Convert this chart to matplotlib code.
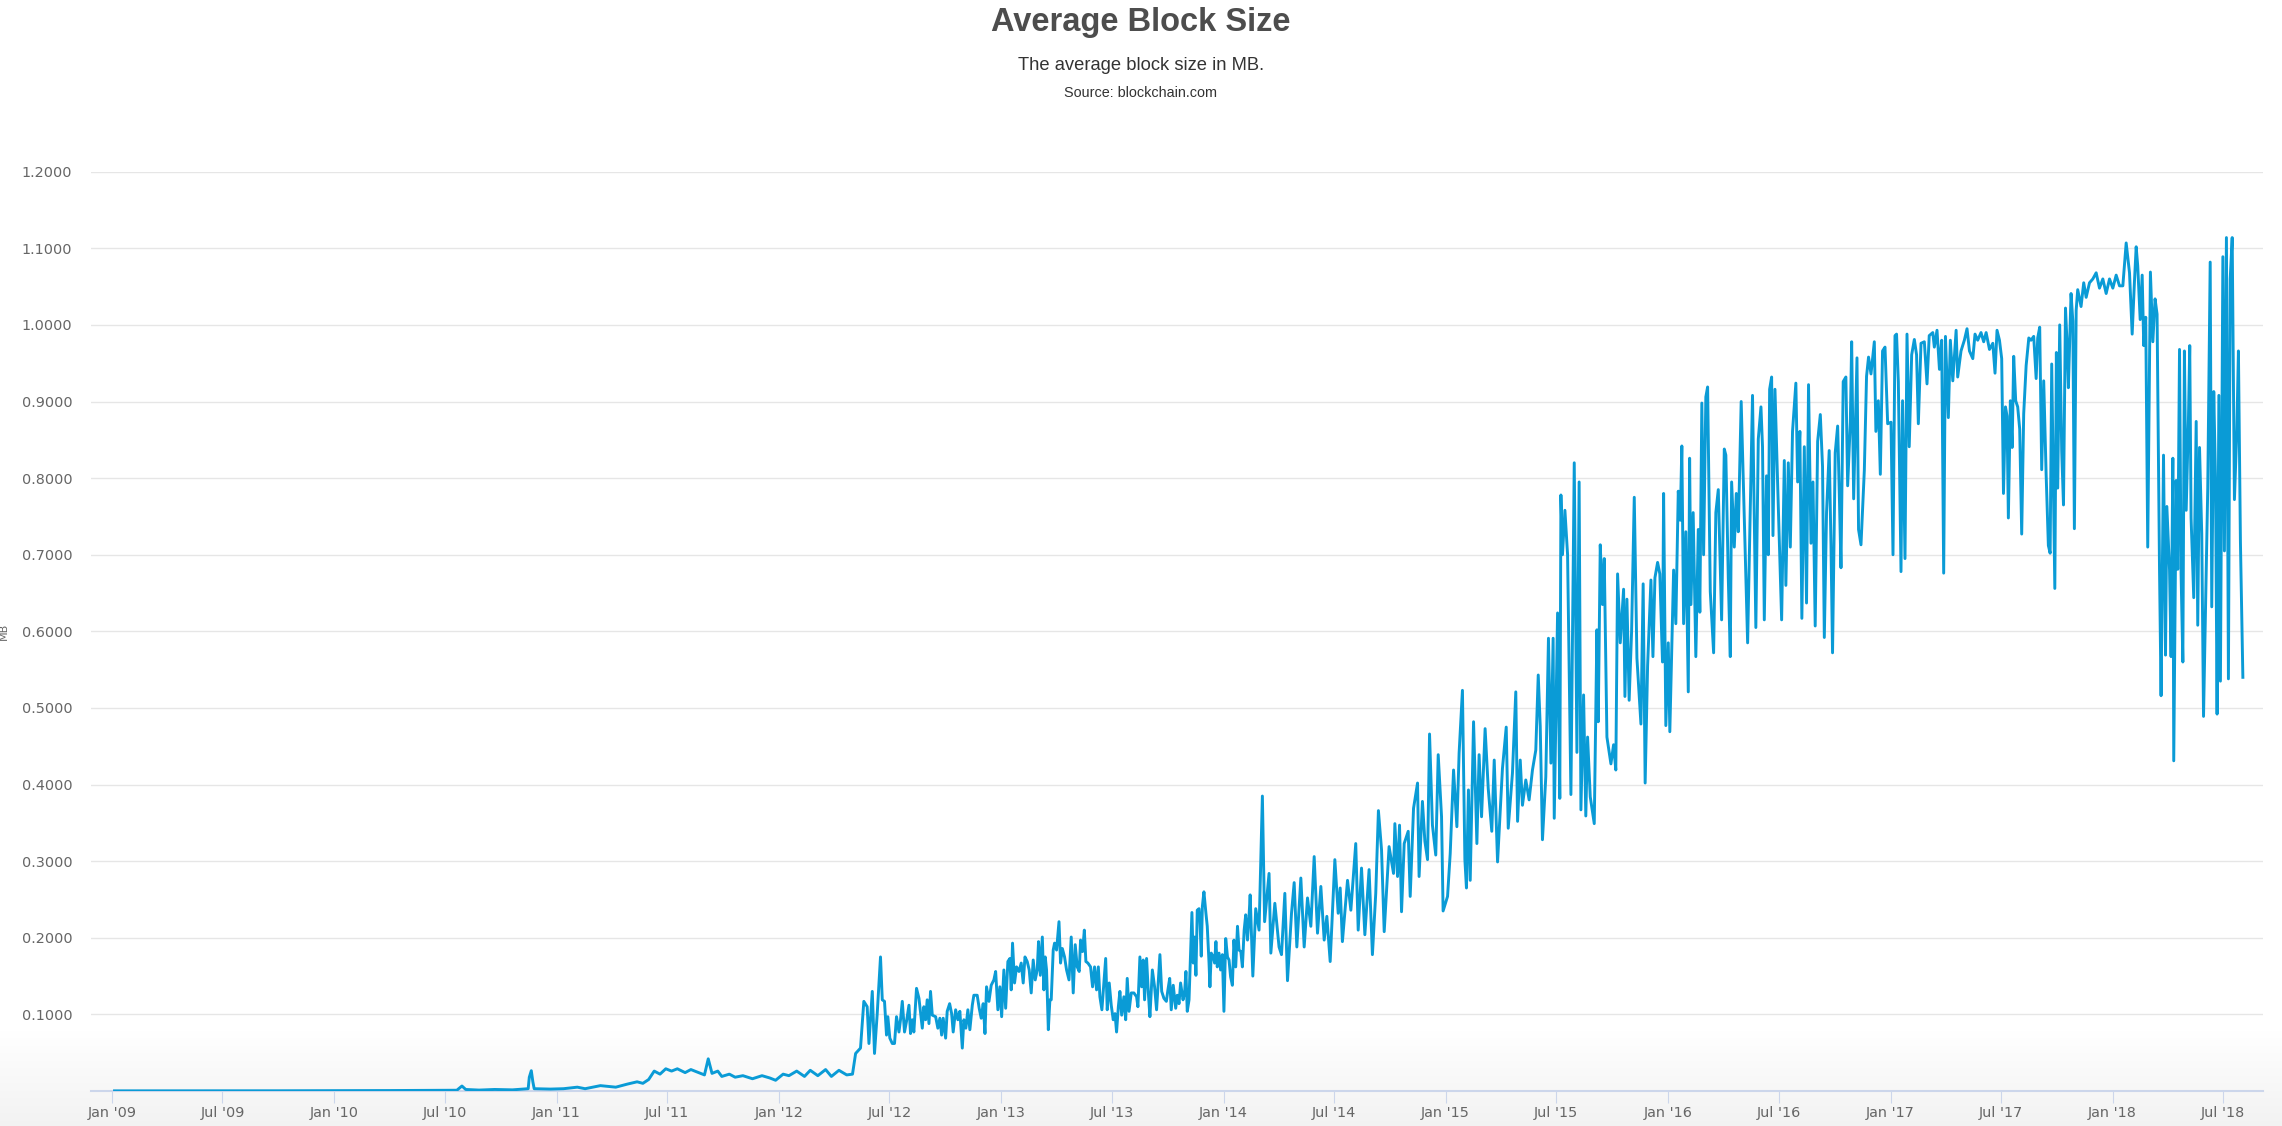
import numpy as np
import matplotlib
matplotlib.use("Agg")
import matplotlib.pyplot as plt

# ---------------- data (decimal years since 2009-01-01, MB) ----------------
yr_2009_12 = [0.01, 0.25, 0.5, 0.75, 1.0, 1.25, 1.45, 1.55, 1.573, 1.59, 1.65, 1.72, 1.80,
              1.871, 1.876, 1.885, 1.892, 1.898, 1.971, 2.03, 2.092, 2.127, 2.196, 2.265,
              2.317, 2.361, 2.387, 2.413, 2.438, 2.464, 2.490, 2.516, 2.542, 2.577, 2.603,
              2.638, 2.664, 2.681, 2.698, 2.724, 2.742, 2.776, 2.802, 2.837, 2.880, 2.923,
              2.958, 2.984, 3.018, 3.044, 3.079, 3.114, 3.140, 3.174, 3.209, 3.235, 3.269,
              3.304, 3.330, 3.344, 3.366, 3.381, 3.396, 3.404, 3.419, 3.429, 3.441]
mb_2009_12 = [0.0002, 0.0002, 0.0002, 0.0003, 0.0004, 0.0006, 0.0008, 0.001, 0.0065, 0.002,
              0.0012, 0.002, 0.0015, 0.003, 0.018, 0.0265, 0.012, 0.003, 0.0025, 0.003, 0.005,
              0.003, 0.007, 0.005, 0.009, 0.012, 0.010, 0.015, 0.026, 0.022, 0.029, 0.026,
              0.029, 0.024, 0.028, 0.024, 0.021, 0.042, 0.023, 0.026, 0.019, 0.022, 0.018,
              0.020, 0.016, 0.020, 0.017, 0.014, 0.022, 0.020, 0.026, 0.019, 0.027, 0.020,
              0.028, 0.019, 0.027, 0.021, 0.022, 0.049, 0.056, 0.117, 0.110, 0.062, 0.130,
              0.049, 0.100]

yr_2012_14 = [3.456, 3.464, 3.474, 3.483, 3.489, 3.498, 3.509, 3.519, 3.528, 3.539, 3.546,
              3.554, 3.564, 3.573, 3.584, 3.591, 3.599, 3.606, 3.618, 3.629, 3.644, 3.651,
              3.659, 3.666, 3.674, 3.681, 3.689, 3.704, 3.714, 3.723, 3.731, 3.738, 3.749,
              3.756, 3.767, 3.776, 3.783, 3.794, 3.804, 3.813, 3.824, 3.831, 3.840, 3.849,
              3.858, 3.869, 3.876, 3.891, 3.900, 3.909, 3.918, 3.926, 3.933, 3.944, 3.954,
              3.966, 3.974, 3.984, 3.993, 4.001, 4.011, 4.019, 4.029, 4.038, 4.044, 4.050,
              4.059, 4.068, 4.079, 4.089, 4.098, 4.106, 4.116, 4.125, 4.134, 4.143, 4.152,
              4.161, 4.167, 4.175, 4.184, 4.191, 4.197, 4.203, 4.211, 4.218, 4.224, 4.233,
              4.239, 4.248, 4.259, 4.266, 4.274, 4.284, 4.293, 4.304, 4.314, 4.323, 4.332,
              4.341, 4.350, 4.356, 4.365, 4.373, 4.380, 4.389, 4.401, 4.410, 4.419, 4.428,
              4.436, 4.443, 4.452, 4.461, 4.469, 4.476, 4.485, 4.494, 4.503, 4.511, 4.518,
              4.526, 4.533, 4.541, 4.551, 4.559, 4.566, 4.574, 4.584, 4.596, 4.608, 4.614,
              4.623, 4.631, 4.638, 4.644, 4.653, 4.661, 4.668, 4.679, 4.689, 4.698, 4.706,
              4.713, 4.721, 4.731, 4.742, 4.749, 4.757, 4.764, 4.773, 4.784, 4.791, 4.799,
              4.806, 4.817, 4.824, 4.830, 4.836, 4.844, 4.851, 4.857, 4.863, 4.869, 4.875,
              4.881, 4.889, 4.893, 4.899, 4.904, 4.911, 4.920, 4.926, 4.934, 4.938, 4.944,
              4.953, 4.959, 4.965, 4.971, 4.979, 4.986, 4.994, 5.001, 5.009, 5.017, 5.024,
              5.031, 5.039, 5.046, 5.054, 5.062, 5.069, 5.077, 5.084, 5.092, 5.099, 5.107,
              5.114, 5.119]
mb_2012_14 = [0.175, 0.119, 0.117, 0.073, 0.097, 0.069, 0.062, 0.062, 0.097, 0.077, 0.093,
              0.117, 0.077, 0.091, 0.112, 0.075, 0.093, 0.077, 0.134, 0.121, 0.082, 0.110,
              0.093, 0.119, 0.088, 0.130, 0.099, 0.097, 0.082, 0.095, 0.073, 0.095, 0.069,
              0.104, 0.114, 0.101, 0.077, 0.106, 0.093, 0.104, 0.056, 0.093, 0.082, 0.106,
              0.080, 0.112, 0.125, 0.125, 0.108, 0.095, 0.114, 0.075, 0.136, 0.117, 0.138,
              0.145, 0.156, 0.106, 0.136, 0.097, 0.158, 0.108, 0.169, 0.173, 0.132, 0.193,
              0.141, 0.162, 0.156, 0.167, 0.141, 0.175, 0.169, 0.158, 0.128, 0.171, 0.145,
              0.158, 0.195, 0.151, 0.201, 0.132, 0.175, 0.158, 0.080, 0.119, 0.119, 0.184,
              0.193, 0.184, 0.221, 0.167, 0.186, 0.175, 0.158, 0.145, 0.201, 0.128, 0.191,
              0.162, 0.156, 0.197, 0.182, 0.210, 0.169, 0.167, 0.162, 0.136, 0.162, 0.132,
              0.162, 0.123, 0.106, 0.141, 0.173, 0.106, 0.141, 0.112, 0.093, 0.101, 0.077,
              0.110, 0.130, 0.099, 0.123, 0.093, 0.147, 0.104, 0.128, 0.128, 0.123, 0.110,
              0.175, 0.136, 0.171, 0.119, 0.173, 0.128, 0.097, 0.158, 0.136, 0.106, 0.145,
              0.178, 0.130, 0.121, 0.117, 0.132, 0.147, 0.106, 0.138, 0.108, 0.125, 0.114,
              0.141, 0.119, 0.128, 0.156, 0.104, 0.119, 0.180, 0.233, 0.167, 0.201, 0.151,
              0.236, 0.238, 0.223, 0.176, 0.241, 0.260, 0.232, 0.215, 0.167, 0.136, 0.180,
              0.175, 0.167, 0.195, 0.162, 0.180, 0.158, 0.178, 0.104, 0.199, 0.175, 0.171,
              0.149, 0.138, 0.197, 0.162, 0.215, 0.184, 0.182, 0.162, 0.210, 0.230, 0.197,
              0.228, 0.256]

yr_2014_15 = [5.131, 5.144, 5.159, 5.174, 5.184, 5.204, 5.212, 5.230, 5.249, 5.260, 5.275,
              5.287, 5.305, 5.317, 5.329, 5.347, 5.362, 5.377, 5.392, 5.407, 5.422, 5.437,
              5.452, 5.464, 5.479, 5.500, 5.515, 5.524, 5.534, 5.557, 5.572, 5.594, 5.605,
              5.620, 5.635, 5.654, 5.669, 5.684, 5.696, 5.710, 5.722, 5.744, 5.764, 5.770,
              5.782, 5.791, 5.800, 5.812, 5.830, 5.839, 5.854, 5.872, 5.879, 5.894, 5.905,
              5.917, 5.926, 5.939, 5.954, 5.965, 5.980, 5.987, 6.007, 6.019, 6.034, 6.049,
              6.059, 6.074, 6.085, 6.092, 6.101, 6.109, 6.124, 6.139, 6.149, 6.160, 6.176,
              6.190, 6.206, 6.217, 6.232, 6.254, 6.271, 6.280, 6.299, 6.314, 6.322, 6.334,
              6.344, 6.359, 6.374, 6.389, 6.404, 6.415, 6.424, 6.434, 6.449, 6.461, 6.472,
              6.482, 6.487, 6.502, 6.512]
mb_2014_15 = [0.150, 0.238, 0.210, 0.385, 0.221, 0.284, 0.180, 0.245, 0.188, 0.178, 0.258,
              0.144, 0.232, 0.272, 0.188, 0.278, 0.188, 0.252, 0.215, 0.306, 0.206, 0.267,
              0.197, 0.228, 0.169, 0.302, 0.232, 0.265, 0.195, 0.275, 0.236, 0.323, 0.210,
              0.291, 0.204, 0.289, 0.178, 0.258, 0.366, 0.315, 0.208, 0.319, 0.284, 0.349,
              0.280, 0.347, 0.234, 0.323, 0.339, 0.254, 0.369, 0.402, 0.280, 0.378, 0.326,
              0.302, 0.466, 0.347, 0.308, 0.439, 0.358, 0.235, 0.254, 0.310, 0.419, 0.345,
              0.441, 0.523, 0.302, 0.265, 0.393, 0.275, 0.482, 0.323, 0.439, 0.358, 0.473,
              0.395, 0.339, 0.432, 0.299, 0.421, 0.475, 0.343, 0.415, 0.521, 0.352, 0.432,
              0.373, 0.406, 0.380, 0.419, 0.445, 0.543, 0.476, 0.328, 0.410, 0.591, 0.428,
              0.591, 0.356, 0.624, 0.382]

yr_2015_17 = [6.517, 6.524, 6.535, 6.547, 6.562, 6.577, 6.589, 6.599, 6.607, 6.619, 6.629,
              6.637, 6.649, 6.667, 6.679, 6.685, 6.694, 6.704, 6.712, 6.724, 6.742, 6.754,
              6.764, 6.772, 6.784, 6.799, 6.805, 6.814, 6.824, 6.835, 6.847, 6.859, 6.877,
              6.887, 6.896, 6.907, 6.922, 6.931, 6.940, 6.952, 6.962, 6.974, 6.979, 6.989,
              7.000, 7.007, 7.024, 7.034, 7.045, 7.054, 7.061, 7.069, 7.079, 7.090, 7.096,
              7.102, 7.112, 7.124, 7.135, 7.142, 7.151, 7.159, 7.169, 7.177, 7.189, 7.204,
              7.214, 7.225, 7.240, 7.252, 7.259, 7.270, 7.279, 7.285, 7.297, 7.306, 7.315,
              7.328, 7.342, 7.357, 7.379, 7.394, 7.405, 7.417, 7.424, 7.432, 7.442, 7.450,
              7.456, 7.465, 7.471, 7.480, 7.492, 7.510, 7.522, 7.529, 7.540, 7.549, 7.559,
              7.574, 7.582, 7.592, 7.601, 7.612, 7.622, 7.631, 7.642, 7.651, 7.661, 7.672,
              7.684, 7.694, 7.702, 7.712, 7.724, 7.732, 7.739, 7.751, 7.762, 7.769, 7.777,
              7.787, 7.799, 7.807, 7.819, 7.825, 7.834, 7.849, 7.856, 7.867, 7.882, 7.892,
              7.901, 7.912, 7.927, 7.934, 7.945, 7.954, 7.964, 7.975, 7.987, 8.002, 8.011,
              8.020, 8.027, 8.035, 8.047, 8.054, 8.065, 8.074, 8.084, 8.095, 8.107, 8.117,
              8.125, 8.137, 8.152, 8.164, 8.174]
mb_2015_17 = [0.778, 0.700, 0.758, 0.700, 0.387, 0.820, 0.442, 0.795, 0.367, 0.517, 0.359,
              0.462, 0.384, 0.349, 0.602, 0.482, 0.713, 0.635, 0.695, 0.462, 0.427, 0.452,
              0.419, 0.675, 0.585, 0.655, 0.515, 0.642, 0.510, 0.600, 0.775, 0.565, 0.479,
              0.662, 0.402, 0.555, 0.667, 0.567, 0.670, 0.690, 0.675, 0.560, 0.780, 0.477,
              0.585, 0.469, 0.680, 0.610, 0.783, 0.745, 0.842, 0.610, 0.730, 0.521, 0.826,
              0.635, 0.755, 0.567, 0.733, 0.625, 0.898, 0.700, 0.906, 0.919, 0.652, 0.572,
              0.755, 0.785, 0.615, 0.838, 0.830, 0.670, 0.567, 0.795, 0.710, 0.780, 0.730,
              0.900, 0.750, 0.585, 0.908, 0.605, 0.851, 0.893, 0.841, 0.615, 0.803, 0.700,
              0.916, 0.932, 0.725, 0.916, 0.793, 0.615, 0.823, 0.660, 0.820, 0.710, 0.861,
              0.924, 0.795, 0.861, 0.617, 0.841, 0.637, 0.922, 0.715, 0.795, 0.607, 0.848,
              0.883, 0.815, 0.592, 0.755, 0.836, 0.713, 0.572, 0.833, 0.868, 0.785, 0.683,
              0.926, 0.932, 0.790, 0.873, 0.978, 0.773, 0.957, 0.733, 0.713, 0.810, 0.933,
              0.958, 0.936, 0.978, 0.861, 0.901, 0.805, 0.966, 0.971, 0.871, 0.873, 0.700,
              0.986, 0.988, 0.926, 0.678, 0.901, 0.695, 0.988, 0.841, 0.961, 0.981, 0.961,
              0.871, 0.976, 0.978, 0.923, 0.986]

yr_2017_18 = [8.190, 8.197, 8.209, 8.220, 8.230, 8.239, 8.247, 8.260, 8.269, 8.280, 8.295,
              8.302, 8.317, 8.332, 8.344, 8.355, 8.370, 8.380, 8.392, 8.407, 8.419, 8.430,
              8.445, 8.460, 8.470, 8.479, 8.490, 8.500, 8.508, 8.517, 8.524, 8.530, 8.539,
              8.547, 8.554, 8.563, 8.572, 8.581, 8.590, 8.599, 8.610, 8.622, 8.632, 8.644,
              8.655, 8.662, 8.671, 8.680, 8.689, 8.700, 8.710, 8.718, 8.725, 8.733, 8.739,
              8.746, 8.752, 8.761, 8.770, 8.778, 8.787, 8.794, 8.800, 8.812, 8.820, 8.827,
              8.835, 8.842, 8.857, 8.869, 8.880, 8.895, 8.910, 8.925, 8.940, 8.955, 8.970,
              8.985, 9.000, 9.015, 9.030, 9.045, 9.060, 9.075, 9.087, 9.097, 9.105, 9.112,
              9.123, 9.132, 9.139, 9.148, 9.157, 9.169, 9.180, 9.190, 9.199, 9.210, 9.217,
              9.228, 9.237, 9.243, 9.255, 9.262, 9.270, 9.274, 9.285, 9.292, 9.300, 9.307,
              9.315, 9.322, 9.330, 9.340, 9.346, 9.352, 9.364, 9.375, 9.382, 9.390, 9.400,
              9.408, 9.417, 9.427, 9.438, 9.445, 9.454, 9.462, 9.469, 9.477, 9.484, 9.495,
              9.502, 9.511, 9.520, 9.528, 9.537, 9.547, 9.558, 9.565, 9.574, 9.585]
mb_2017_18 = [0.990, 0.971, 0.993, 0.942, 0.980, 0.676, 0.985, 0.879, 0.980, 0.927, 0.993,
              0.932, 0.966, 0.980, 0.995, 0.966, 0.956, 0.988, 0.980, 0.990, 0.978, 0.990,
              0.968, 0.976, 0.937, 0.993, 0.980, 0.956, 0.780, 0.893, 0.881, 0.748, 0.901,
              0.840, 0.959, 0.901, 0.893, 0.864, 0.727, 0.884, 0.947, 0.983, 0.980, 0.985,
              0.930, 0.983, 0.997, 0.811, 0.927, 0.804, 0.712, 0.702, 0.949, 0.787, 0.656,
              0.964, 0.787, 1.000, 0.835, 0.765, 1.022, 0.976, 0.918, 1.041, 1.005, 0.734,
              1.019, 1.046, 1.024, 1.055, 1.036, 1.055, 1.060, 1.068, 1.048, 1.060, 1.041,
              1.060, 1.048, 1.065, 1.051, 1.051, 1.107, 1.068, 0.988, 1.055, 1.102, 1.077,
              1.007, 1.065, 0.973, 1.010, 0.710, 1.069, 0.978, 1.034, 1.014, 0.681, 0.516,
              0.830, 0.569, 0.763, 0.681, 0.567, 0.826, 0.431, 0.797, 0.681, 0.968, 0.676,
              0.560, 0.966, 0.758, 0.874, 0.973, 0.748, 0.644, 0.874, 0.608, 0.840, 0.727,
              0.489, 0.627, 0.787, 1.082, 0.632, 0.913, 0.797, 0.492, 0.908, 0.535, 1.089,
              0.705, 1.114, 0.538, 1.060, 1.114, 0.772, 0.864, 0.966, 0.717, 0.540]

y_ticks = [0.1, 0.2, 0.3, 0.4, 0.5, 0.6, 0.7, 0.8, 0.9, 1.0, 1.1, 1.2]
tick_years = list(range(2009, 2019))
title = "Average Block Size"
subtitle = "The average block size in MB."
source = "Source: blockchain.com"

# ---------------- helpers ----------------
base = np.datetime64("2009-01-01T00:00:00")


def to_dates(yrs):
    secs = np.round(np.asarray(yrs, dtype=float) * 365.25 * 86400).astype("int64")
    return base + secs.astype("timedelta64[s]")


years = np.concatenate([yr_2009_12, yr_2012_14, yr_2014_15, yr_2015_17, yr_2017_18])
sizes = np.concatenate([mb_2009_12, mb_2012_14, mb_2014_15, mb_2015_17, mb_2017_18])
dates = to_dates(years)

W, H = 2282, 1126
fig = plt.figure(figsize=(W / 100, H / 100), dpi=100)
fig.patch.set_facecolor("white")

# subtle grey gradient at the bottom of the page
bg = fig.add_axes([0, 0, 1, 1], zorder=-10)
bg.axis("off")
rows = np.arange(H)
shade = np.ones(H)
start = 1030
shade[rows > start] = 1 - 0.05 * (rows[rows > start] - start) / (H - start)
img = np.dstack([shade, shade, shade]).reshape(H, 1, 3)
bg.imshow(img, extent=[0, 1, 0, 1], aspect="auto")
bg.set_xlim(0, 1)
bg.set_ylim(0, 1)

left, right = 91 / W, 2263 / W
bottom, top = 1 - 1091 / H, 1 - 171.7 / H
ax = fig.add_axes([left, bottom, right - left, top - bottom], zorder=1)
ax.set_facecolor("none")

ax.plot(dates, sizes, color="#0a9bd6", lw=2.1, solid_joinstyle="round", zorder=3)

ax.set_ylim(0, 1.2)
ax.set_xlim(np.datetime64("2008-11-27"), np.datetime64("2018-09-05"))

ax.set_yticks(y_ticks)
ax.set_yticklabels([f"{v:.4f}" for v in y_ticks])
ax.grid(axis="y", color="#e6e6e6", lw=1.0)
ax.set_axisbelow(True)

tick_dates, tick_labels = [], []
for yv in tick_years:
    for m, name in ((1, "Jan"), (7, "Jul")):
        if yv == 2018 and m > 7:
            continue
        tick_dates.append(np.datetime64(f"{yv}-{m:02d}-01"))
        tick_labels.append(f"{name} '{yv % 100:02d}")
ax.set_xticks(tick_dates)
ax.set_xticklabels(tick_labels)

for s in ("left", "right", "top"):
    ax.spines[s].set_visible(False)
ax.spines["bottom"].set_color("#ccd6eb")
ax.spines["bottom"].set_linewidth(1.5)

ax.tick_params(axis="y", length=0, pad=13.5, labelsize=10.4, labelcolor="#666666")
ax.tick_params(axis="x", length=8.6, width=0.8, color="#ccd6eb", pad=2,
               labelsize=10.4, labelcolor="#666666", direction="out")
for lab in ax.get_xticklabels() + ax.get_yticklabels():
    lab.set_family("DejaVu Sans")

fig.text(0.5, 1 - 22 / H, title, ha="center", va="center", fontsize=23.5,
         fontweight="bold", color="#4d4d4d", family="Liberation Sans")
fig.text(0.5, 1 - 65 / H, subtitle, ha="center", va="center", fontsize=13.2,
         color="#333333", family="Liberation Sans")
fig.text(0.5, 1 - 93 / H, source, ha="center", va="center", fontsize=10.4,
         color="#333333", family="Liberation Sans")
fig.text(4 / W, 1 - 631 / H, "MB", rotation=90, ha="center", va="center",
         fontsize=8, color="#666666", family="DejaVu Sans")

fig.savefig("out.png", dpi=100)
